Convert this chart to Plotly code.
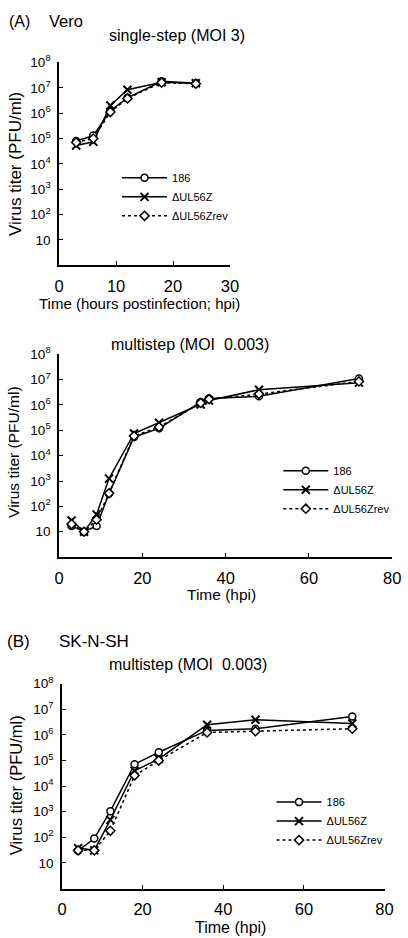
import plotly.graph_objects as go

# ---------------- data ----------------
series_names = ["186", "\u0394UL56Z", "\u0394UL56Zrev"]

p1_time = [3, 6, 9, 12, 18, 24]
p1_186 = [7.9e4, 1.3e5, 1.25e6, 4.0e6, 1.8e7, 1.5e7]
p1_dul56z = [5.3e4, 7.4e4, 2.0e6, 8.4e6, 1.65e7, 1.5e7]
p1_rev = [7.0e4, 1.0e5, 1.1e6, 3.8e6, 1.6e7, 1.45e7]

p2_time = [3, 6, 9, 12, 18, 24, 34, 36, 48, 72]
p2_186 = [17, 10, 17, 320, 5.5e4, 1.2e5, 1.3e6, 1.8e6, 2.2e6, 1.1e7]
p2_dul56z = [28, 10, 48, 1.25e3, 7.5e4, 2.0e5, 1.05e6, 1.5e6, 4.0e6, 7.6e6]
p2_rev = [20, 10, 30, 330, 6.0e4, 1.35e5, 1.2e6, 1.7e6, 2.7e6, 8.5e6]

p3_time = [4, 8, 12, 18, 24, 36, 48, 72]
p3_186 = [30, 90, 1.05e3, 7.2e4, 2.1e5, 1.5e6, 1.75e6, 5.3e6]
p3_dul56z = [38, 31, 480, 4.0e4, 1.15e5, 2.5e6, 3.9e6, 2.8e6]
p3_rev = [31, 31, 180, 2.6e4, 1.0e5, 1.25e6, 1.4e6, 1.75e6]

ytick_vals = [10, 1e2, 1e3, 1e4, 1e5, 1e6, 1e7, 1e8]
ytick_text = ["10", "10<sup>2</sup>", "10<sup>3</sup>", "10<sup>4</sup>",
              "10<sup>5</sup>", "10<sup>6</sup>", "10<sup>7</sup>", "10<sup>8</sup>"]

W, H = 408, 938
FONT = "Arial, 'Liberation Sans', sans-serif"

def px_x(p):
    return p / W

def px_y(p):
    return 1 - p / H

fig = go.Figure()

styles = [
    dict(symbol="circle", dash="solid", mcolor="white", lw=1.5, size=7),
    dict(symbol="x-thin", dash="solid", mcolor="black", lw=2, size=8),
    dict(symbol="diamond", dash="dot", mcolor="white", lw=1.5, size=7),
]

panels = [
    (p1_time, [p1_186, p1_dul56z, p1_rev], "x", "y", "legend"),
    (p2_time, [p2_186, p2_dul56z, p2_rev], "x2", "y2", "legend2"),
    (p3_time, [p3_186, p3_dul56z, p3_rev], "x3", "y3", "legend3"),
]

for t, ys, xa, ya, lg in panels:
    for i, (name, yv) in enumerate(zip(series_names, ys)):
        st = styles[i]
        fig.add_trace(go.Scatter(
            x=t, y=yv, name=name, xaxis=xa, yaxis=ya, legend=lg,
            legendgroup=lg + str(i),
            mode="lines+markers",
            line=dict(color="black", width=1.5, dash=st["dash"]),
            marker=dict(symbol=st["symbol"], size=st["size"],
                        color=st["mcolor"],
                        line=dict(color="black", width=st["lw"])),
        ))

# axis domains (pixel-derived)
dom = {
    1: dict(x=(56, 233), y=(53, 258), xr=[0, 30], dt=10),
    2: dict(x=(56, 401), y=(348, 553), xr=[0, 80], dt=20),
    3: dict(x=(59, 393), y=(681, 888), xr=[0, 80], dt=20),
}

axis_common = dict(showline=True, linecolor="black", linewidth=1.5,
                   ticks="inside", ticklen=4, tickwidth=1.2, tickcolor="black",
                   showgrid=False, zeroline=False)

layout = {}
for k, d in dom.items():
    sx = "" if k == 1 else str(k)
    layout["xaxis" + sx] = dict(
        domain=[px_x(d["x"][0]), px_x(d["x"][1])],
        anchor="y" + sx, range=d["xr"], dtick=d["dt"], tick0=0,
        ticklabelstandoff=5,
        tickfont=dict(family=FONT, size=16.5, color="black"),
        **axis_common)
    layout["yaxis" + sx] = dict(
        domain=[px_y(d["y"][1]), px_y(d["y"][0])],
        anchor="x" + sx, type="log", range=[0, 8],
        tickvals=ytick_vals, ticktext=ytick_text,
        ticklabelstandoff=4,
        tickfont=dict(family=FONT, size=13.5, color="black"),
        **axis_common)

legend_common = dict(font=dict(family=FONT, size=11, color="black"),
                     bgcolor="rgba(0,0,0,0)", itemwidth=45,
                     tracegroupgap=0, xanchor="left", yanchor="top")
layout["legend"] = dict(x=px_x(116), y=px_y(155), **legend_common)
layout["legend2"] = dict(x=px_x(283), y=px_y(451), **legend_common)
layout["legend3"] = dict(x=px_x(276), y=px_y(786), **legend_common)

ann = []
def text(s, x, y, size=14, angle=0, xanchor="center"):
    ann.append(dict(text=s, x=px_x(x), y=px_y(y), xref="paper", yref="paper",
                    showarrow=False, textangle=angle, xanchor=xanchor,
                    yanchor="middle",
                    font=dict(family=FONT, size=size, color="black")))

text("(A)", 2, 12, size=16, xanchor="left")
text("Vero", 43, 11, size=16.5, xanchor="left")
text("single-step (MOI 3)", 178, 26, size=16)
text("Time (hours postinfection; hpi)", 139, 297, size=15)
text("Virus titer (PFU/ml)", 11, 156, size=17, angle=-90)

text("multistep (MOI  0.003)", 192, 338, size=16)
text("Time (hpi)", 224, 591, size=15.5)
text("Virus titer (PFU/ml)", 9, 447, size=15.5, angle=-90)

text("(B)", 0, 638, size=17, xanchor="left")
text("SK-N-SH", 54, 638, size=17, xanchor="left")
text("multistep (MOI  0.003)", 189, 662, size=16)
text("Time (hpi)", 233, 927, size=16)
text("Virus titer (PFU/ml)", 11, 784, size=16.5, angle=-90)

fig.update_layout(
    width=W, height=H,
    margin=dict(l=0, r=0, t=0, b=0),
    paper_bgcolor="white", plot_bgcolor="white",
    showlegend=True,
    annotations=ann,
    **layout,
)

fig.write_html("out.html",
               config={"displayModeBar": False},
               post_script="document.body.style.margin='0px';")
